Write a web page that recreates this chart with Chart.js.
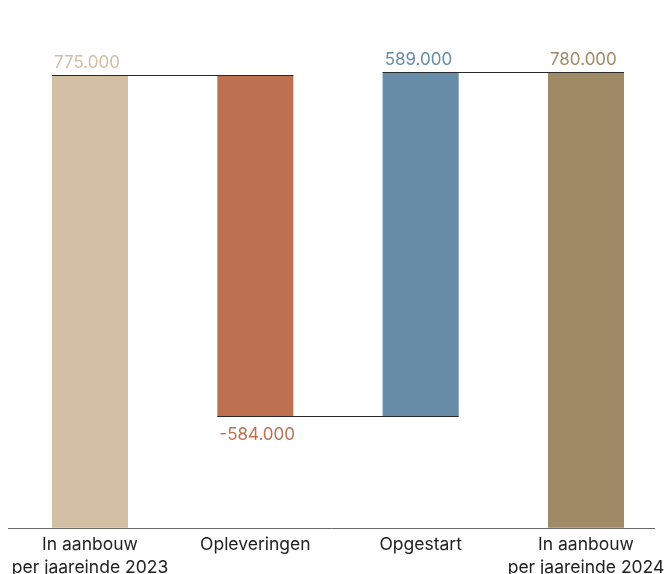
<!DOCTYPE html>
<html>
<head>
<meta charset="utf-8">
<script src="https://cdn.jsdelivr.net/npm/chart.js@4/dist/chart.umd.min.js"></script>
<style>
  html, body { margin: 0; padding: 0; background: #fff; }
  #wrap { width: 665px; height: 574px; }
</style>
</head>
<body>
<div id="wrap"><canvas id="chart"></canvas></div>
<script>
const categories = [
    ["In aanbouw", "per jaareinde 2023"],
    "Opleveringen",
    "Opgestart",
    ["In aanbouw", "per jaareinde 2024"]
];
const changes = [775000, -584000, 589000, 780000];
const isTotal = [true, false, false, true];
const barColors = ["#d3bfa3", "#bd7151", "#678ca8", "#a08a66"];

const fmt = (v) => {
    const s = Math.abs(v).toString().replace(/\B(?=(\d{3})+(?!\d))/g, ".");
    return (v < 0 ? "-" : "") + s;
};

// floating ranges for the waterfall
let running = 0;
const ranges = changes.map((v, i) => {
    if (isTotal[i]) {
        running = v;
        return [0, v];
    }
    const start = running;
    running += v;
    return [start, running];
});

const waterfallDecor = {
    id: "waterfallDecor",
    afterDatasetsDraw(chart) {
        const { ctx, chartArea, scales } = chart;
        const bars = chart.getDatasetMeta(0).data;
        const y = scales.y;

        ctx.save();
        // baseline
        const base = Math.round(y.getPixelForValue(0)) + 0.5;
        ctx.strokeStyle = "#6b6b6b";
        ctx.lineWidth = 1;
        ctx.beginPath();
        ctx.moveTo(chartArea.left - 82, base);
        ctx.lineTo(chartArea.right + 69, base);
        ctx.stroke();

        // connectors
        ctx.strokeStyle = "#2a2a2a";
        for (let i = 0; i < bars.length - 1; i++) {
            const level = ranges[i][1];
            const py = Math.round(y.getPixelForValue(level)) + 0.5;
            const a = bars[i], b = bars[i + 1];
            ctx.beginPath();
            ctx.moveTo(a.x - a.width / 2, py);
            ctx.lineTo(b.x + b.width / 2, py);
            ctx.stroke();
        }

        // value labels
        ctx.font = "17px Inter, 'Noto Sans', sans-serif";
        ctx.textAlign = "left";
        ctx.textBaseline = "alphabetic";
        bars.forEach((bar, i) => {
            ctx.fillStyle = barColors[i];
            const left = bar.x - bar.width / 2 + 2;
            const v = changes[i];
            const py = y.getPixelForValue(ranges[i][1]);
            if (v < 0) {
                ctx.fillText(fmt(v), left, py + 24);
            } else {
                ctx.fillText(fmt(v), left, py - 7);
            }
        });
        ctx.restore();
    }
};

new Chart(document.getElementById("chart"), {
    type: "bar",
    data: {
        labels: categories,
        datasets: [
            {
                data: ranges,
                backgroundColor: barColors,
                borderWidth: 0,
                categoryPercentage: 1,
                barPercentage: 0.46,
                clip: false
            }
        ]
    },
    options: {
        responsive: true,
        maintainAspectRatio: false,
        animation: false,
        layout: {
            padding: { left: 90, right: 79, top: 2, bottom: -10.5 }
        },
        plugins: {
            legend: { display: false },
            tooltip: { enabled: false }
        },
        scales: {
            x: {
                offset: false,
                grid: { display: false, drawTicks: false },
                border: { display: false },
                afterFit: (scale) => {
                    scale.paddingLeft = 0;
                    scale.paddingRight = 0;
                },
                ticks: {
                    color: "#222",
                    padding: 6,
                    maxRotation: 0,
                    autoSkip: false,
                    font: { family: "Inter, 'Noto Sans', sans-serif", size: 17.5, lineHeight: 1.28 }
                }
            },
            y: {
                display: false,
                min: 0,
                max: 900000
            }
        }
    },
    plugins: [waterfallDecor]
});
</script>
</body>
</html>
